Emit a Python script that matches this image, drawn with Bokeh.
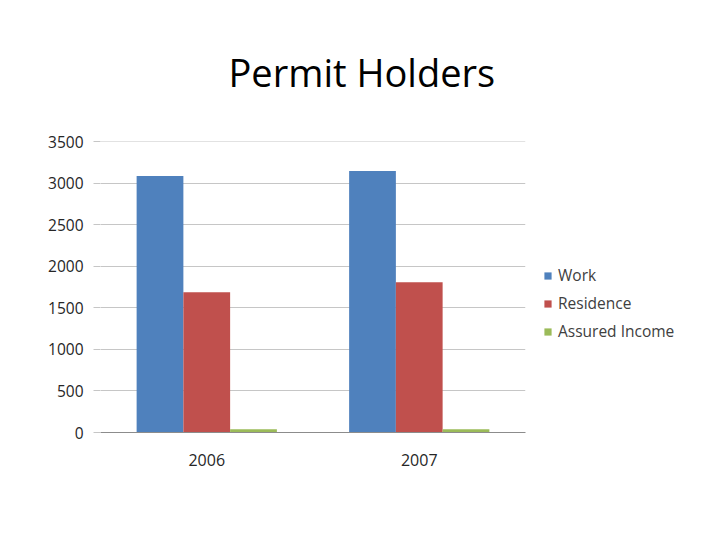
from bokeh.plotting import figure
from bokeh.models import ColumnDataSource, FactorRange, Legend, LegendItem, SingleIntervalTicker
from bokeh.transform import dodge
from bokeh.embed import file_html
from bokeh.resources import INLINE

years = ["2006", "2007"]
series = ["Work", "Residence", "Assured Income"]
work = [3090, 3150]
residence = [1690, 1810]
assured = [40, 40]
colors = ["#4F81BD", "#C0504D", "#9BBB59"]

source = ColumnDataSource(data=dict(years=years, work=work, residence=residence, assured=assured))

FONT = "Open Sans"

p = figure(x_range=FactorRange(*years, range_padding=0), y_range=(0, 3505),
           frame_width=425, frame_height=291,
           min_border_left=100, min_border_right=179, min_border_top=141, min_border_bottom=90,
           output_backend="svg", toolbar_location=None, title="Permit Holders")

p.title.align = "left"
p.title.offset = 128
p.title.text_font = FONT
p.title.text_font_size = "38px"
p.title.text_font_style = "normal"
p.title.text_color = "#000000"
p.title.standoff = 87

w = 0.22
cols = ["work", "residence", "assured"]
offs = [-w, 0, w]
renderers = []
for c, o, col in zip(cols, offs, colors):
    r = p.vbar(x=dodge("years", o, range=p.x_range), top=c, width=w, source=source,
               fill_color=col, line_color=None)
    renderers.append(r)

p.outline_line_color = None
p.background_fill_color = "white"
p.border_fill_color = "white"

p.xgrid.grid_line_color = None
p.ygrid.grid_line_color = "#c6c6c6"
p.ygrid.grid_line_width = 1

p.yaxis.ticker = SingleIntervalTicker(interval=500)
p.yaxis.axis_line_color = None
p.yaxis.major_tick_line_color = "#c6c6c6"
p.yaxis.major_tick_out = 7
p.yaxis.major_tick_in = 0
p.yaxis.minor_tick_line_color = None
p.yaxis.major_label_standoff = 10
p.yaxis.major_label_text_font = FONT
p.yaxis.major_label_text_font_size = "15.5px"
p.yaxis.major_label_text_color = "#262626"

p.xaxis.axis_line_color = "#8c8c8c"
p.xaxis.major_tick_line_color = None
p.xaxis.major_label_standoff = 15
p.xaxis.major_label_text_font = FONT
p.xaxis.major_label_text_font_size = "16px"
p.xaxis.major_label_text_color = "#262626"

legend = Legend(items=[LegendItem(label=s, renderers=[r]) for s, r in zip(series, renderers)],
                location=(18, 90), border_line_color=None, background_fill_alpha=0,
                glyph_width=9, glyph_height=9, spacing=6, label_text_font=FONT,
                label_text_font_size="15.5px", label_text_color="#404040",
                label_standoff=6, padding=0, margin=0)
p.add_layout(legend, "right")

open("out.html", "w").write(file_html(p, INLINE))
